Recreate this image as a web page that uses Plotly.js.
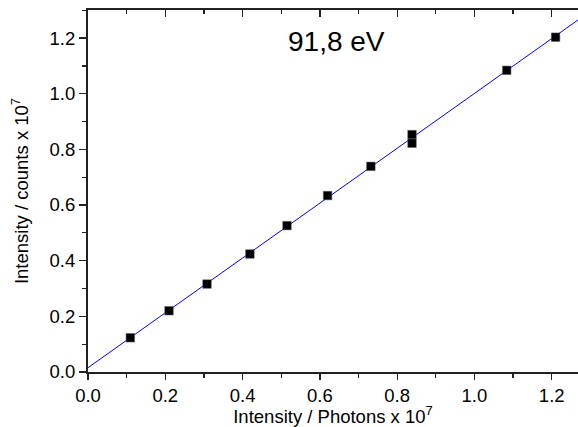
<!DOCTYPE html>
<html><head><meta charset="utf-8">
<script src="https://cdn.plot.ly/plotly-3.0.1.min.js"></script>
<style>body{margin:0;background:#fff}#c{width:578px;height:427px}</style>
</head><body><div id="c"></div>
<script>
const photonsX = [0.1095, 0.2096, 0.308, 0.419, 0.515, 0.620, 0.732, 0.8385, 0.8385, 1.0835, 1.210];
const countsY  = [0.123, 0.220, 0.316, 0.424, 0.526, 0.634, 0.739, 0.853, 0.822, 1.084, 1.203];
const fitX = [0, 1.268];
const fitY = [0.0155, 1.265];
const tickVals = [0, 0.2, 0.4, 0.6, 0.8, 1.0, 1.2];
const tickText = ['0.0', '0.2', '0.4', '0.6', '0.8', '1.0', '1.2'];
const labelText = '91,8 eV';

const F = 'Liberation Sans, Arial, sans-serif';
const traces = [
  {x: fitX, y: fitY, mode: 'lines', line: {color: '#0000ff', width: 1}, hoverinfo: 'skip'},
  {x: photonsX, y: countsY, mode: 'markers',
   marker: {symbol: 'square', size: 8.5, color: '#000', line: {color: '#555', width: 0.5}}},
  {x: [0], y: [0], xaxis: 'x2', mode: 'markers', marker: {opacity: 0}, hoverinfo: 'skip'}
];
const layout = {
  width: 578, height: 427,
  margin: {l: 88, r: 0, t: 10, b: 55},
  showlegend: false,
  paper_bgcolor: '#fff', plot_bgcolor: '#fff',
  font: {family: F, size: 18.5, color: '#000'},
  xaxis: {range: [0, 1.268], tickvals: tickVals, ticktext: tickText,
    ticks: 'outside', ticklen: 6, tickwidth: 1.3, tickcolor: '#222',
    showline: true, linecolor: '#222', linewidth: 2, showgrid: false, zeroline: false,
    minor: {dtick: 0.1, tick0: 0, ticks: 'outside', ticklen: 4, tickwidth: 1.3, tickcolor: '#222'},
    title: {text: 'Intensity / Photons x 10<sup>7</sup>', font: {size: 18.5}, standoff: 3}},
  xaxis2: {overlaying: 'x', side: 'top', matches: 'x', range: [0, 1.268], tickvals: tickVals,
    showticklabels: false, ticks: 'inside', ticklen: 7, tickwidth: 1.3, tickcolor: '#222',
    showline: true, linecolor: '#222', linewidth: 2, showgrid: false, zeroline: false,
    minor: {dtick: 0.1, tick0: 0, ticks: 'inside', ticklen: 4, tickwidth: 1.3, tickcolor: '#222'}},
  yaxis: {range: [0, 1.3007], tickvals: tickVals, ticktext: tickText,
    ticks: 'outside', ticklen: 7, tickwidth: 1.3, tickcolor: '#222',
    showline: true, linecolor: '#222', linewidth: 2, showgrid: false, zeroline: false,
    minor: {dtick: 0.1, tick0: 0, ticks: 'outside', ticklen: 4, tickwidth: 1.3, tickcolor: '#222'},
    title: {text: 'Intensity / counts x 10<sup>7</sup>', font: {size: 18.5}, standoff: 16}},
  annotations: [{text: labelText, xref: 'paper', yref: 'paper', x: 0.508, y: 0.912,
    xanchor: 'center', yanchor: 'middle',
    showarrow: false, font: {size: 28, family: F}}]
};
Plotly.newPlot('c', traces, layout, {displayModeBar: false, staticPlot: true});
</script></body></html>
